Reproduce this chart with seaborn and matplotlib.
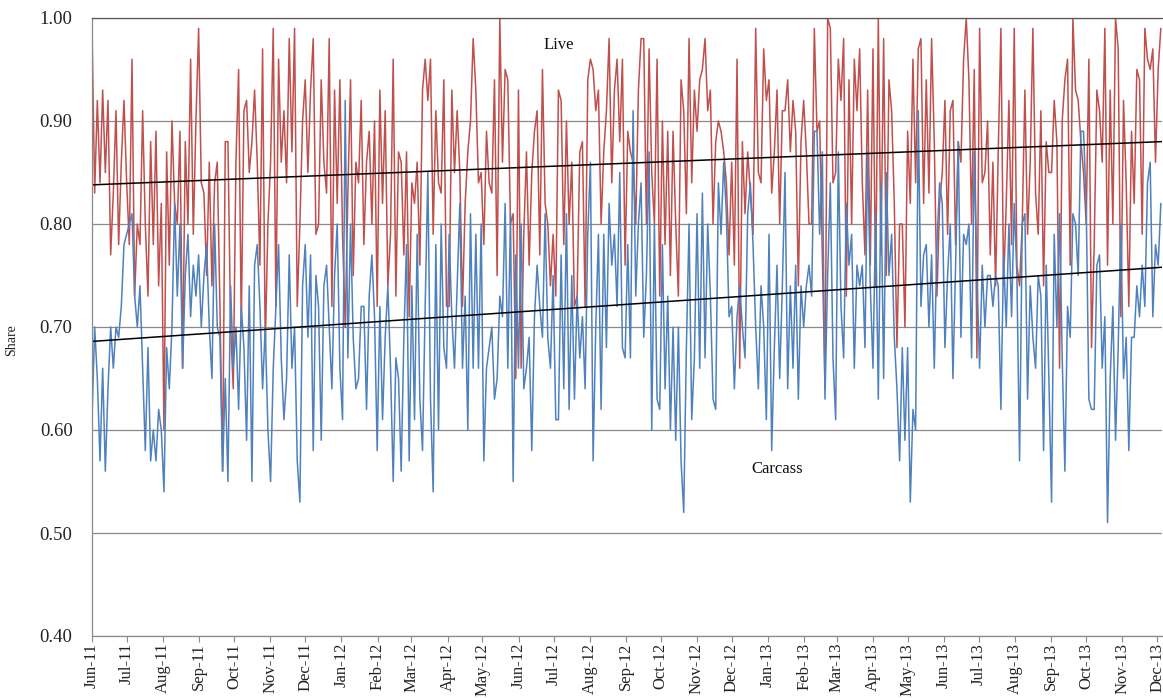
import numpy as np
import pandas as pd
import matplotlib
matplotlib.use("Agg")
import matplotlib.pyplot as plt
import matplotlib.dates as mdates
from matplotlib.ticker import FormatStrFormatter, MultipleLocator
import seaborn as sns

# Share of live and carcass sales (in percent), sampled evenly Jun-2011 .. Dec-2013
live_pct = [
    99, 83, 92, 84, 93, 85, 92, 77, 83, 91, 78, 86, 92, 84, 78, 96, 73, 80, 78, 91,
    80, 73, 88, 78, 89, 74, 82, 60, 87, 76, 90, 82,
    80, 89, 66, 88, 80, 96, 79, 90, 99, 84, 83, 75, 86, 74, 84, 86, 72, 56, 88, 88,
    70, 64, 86, 95, 70, 91, 92, 85, 88, 93, 86, 76, 97, 68,
    80, 86, 99, 72, 96, 86, 91, 84, 98, 87, 99, 72, 80, 90, 94, 85, 93, 98, 79, 80,
    94, 86, 83, 98, 72, 93, 82, 94, 79, 70, 83, 94, 75, 86,
    84, 92, 78, 86, 89, 80, 90, 72, 93, 82, 91, 74, 79, 96, 73, 87, 86, 77, 87, 71,
    84, 82, 86, 76, 93, 96, 92, 96, 79, 91, 84, 83, 94, 72,
    72, 93, 85, 91, 85, 72, 82, 87, 90, 98, 93, 84, 85, 78, 89, 84, 83, 94, 75, 100,
    86, 95, 94, 80, 81, 65, 93, 66, 79, 87, 76, 85, 89, 91,
    77, 95, 82, 80, 74, 79, 73, 93, 92, 78, 90, 80, 86, 72, 73, 87, 88, 72, 94, 96,
    95, 91, 93, 80, 87, 91, 98, 84, 93, 96, 88, 96, 76, 89,
    87, 86, 80, 93, 98, 98, 80, 97, 85, 80, 96, 73, 90, 78, 89, 75, 89, 80, 73, 94,
    91, 81, 98, 84, 93, 89, 94, 95, 98, 91, 93, 80, 88, 90,
    89, 87, 84, 77, 86, 76, 96, 66, 88, 81, 87, 83, 79, 99, 85, 84, 97, 92, 94, 83,
    87, 93, 80, 91, 91, 94, 87, 92, 89, 74, 88, 92, 87, 80,
    80, 99, 89, 90, 77, 64, 100, 99, 84, 85, 96, 92, 98, 73, 94, 80, 96, 91, 97, 84,
    77, 93, 76, 97, 74, 100, 77, 98, 75, 94, 91, 82, 68, 80,
    80, 70, 89, 82, 96, 84, 97, 98, 82, 94, 83, 98, 88, 73, 82, 85, 92, 79, 91, 92,
    78, 88, 86, 96, 100, 94, 80, 95, 67, 99, 84, 85, 90, 77,
    86, 74, 87, 99, 74, 82, 92, 78, 99, 76, 74, 80, 93, 79, 86, 99, 83, 79, 91, 74,
    88, 85, 85, 92, 88, 66, 90, 94, 96, 76, 100, 93, 92, 88,
    85, 80, 96, 68, 78, 93, 91, 86, 99, 76, 93, 80, 100, 97, 71, 92, 84, 72, 89, 82,
    95, 94, 79, 99, 96, 95, 97, 86, 95, 99,
]

carcass_pct = [
    61, 70, 65, 57, 66, 56, 64, 70, 66, 70, 69, 72, 78, 79, 80, 81, 73, 70, 74, 66,
    58, 68, 57, 60, 57, 62, 60, 54, 68, 64, 70, 82,
    73, 80, 66, 75, 79, 71, 76, 73, 77, 70, 75, 78, 70, 65, 80, 70, 69, 56, 65, 55,
    74, 66, 70, 62, 72, 68, 59, 74, 55, 76, 78, 72, 64, 70,
    60, 55, 66, 72, 78, 67, 61, 65, 77, 66, 70, 57, 53, 74, 78, 69, 77, 58, 75, 72,
    59, 74, 76, 70, 64, 75, 80, 66, 61, 92, 67, 80, 69, 64,
    65, 72, 72, 62, 73, 77, 71, 58, 72, 61, 69, 74, 66, 55, 67, 65, 56, 69, 78, 57,
    74, 61, 79, 63, 58, 72, 85, 63, 54, 78, 60, 80, 68, 66,
    79, 71, 66, 74, 82, 66, 73, 60, 81, 66, 79, 66, 80, 57, 66, 68, 70, 63, 65, 73,
    71, 82, 66, 81, 55, 77, 66, 80, 64, 66, 69, 58, 71, 76,
    72, 69, 81, 69, 66, 75, 61, 61, 77, 64, 81, 62, 75, 63, 73, 67, 71, 64, 79, 86,
    57, 70, 79, 62, 79, 68, 82, 76, 79, 72, 85, 68, 67, 78,
    67, 91, 73, 80, 84, 69, 75, 87, 60, 80, 63, 62, 78, 64, 73, 60, 70, 59, 70, 57,
    52, 68, 80, 61, 67, 81, 66, 83, 67, 80, 73, 63, 62, 84,
    79, 86, 81, 71, 72, 64, 71, 74, 70, 67, 81, 84, 78, 70, 64, 74, 70, 61, 79, 58,
    68, 76, 65, 74, 85, 64, 74, 66, 76, 63, 74, 70, 74, 76,
    73, 89, 89, 79, 87, 63, 75, 84, 67, 61, 87, 72, 67, 82, 76, 79, 66, 76, 74, 76,
    68, 87, 74, 66, 81, 63, 84, 65, 85, 75, 79, 69, 64, 57,
    68, 59, 68, 53, 62, 60, 91, 72, 77, 78, 70, 77, 66, 78, 84, 82, 68, 75, 80, 65,
    76, 88, 69, 79, 78, 80, 67, 87, 75, 66, 76, 70, 75, 75,
    72, 75, 74, 62, 77, 70, 80, 71, 82, 75, 57, 80, 81, 63, 74, 69, 66, 75, 73, 58,
    76, 65, 53, 79, 70, 81, 67, 56, 72, 69, 81, 80, 75, 89,
    89, 82, 63, 62, 62, 76, 77, 66, 71, 51, 65, 72, 59, 68, 80, 65, 69, 58, 69, 69,
    74, 71, 76, 72, 84, 86, 71, 78, 76, 82,
]

# Linear trend of each share at the start and end of the period
trend_live = [0.838, 0.880]
trend_carcass = [0.686, 0.758]

period = ["2011-06-01", "2013-12-04"]
axis_range = ["2011-06-01", "2013-12-05"]
y_range = [0.40, 1.00]

series_names = ["Live", "Carcass"]
series_colors = {"Live": "#C0504D", "Carcass": "#4F81BD"}

sns.set_theme(style="white")
plt.rcParams["font.family"] = ["Liberation Serif", "DejaVu Serif"]

n = len(live_pct)
dates = pd.date_range(period[0], period[1], periods=n)
df = pd.DataFrame({
    "date": np.concatenate([dates.values, dates.values]),
    "share": np.array(live_pct + carcass_pct) / 100.0,
    "series": [series_names[0]] * n + [series_names[1]] * n,
})

trend_dates = pd.to_datetime(axis_range)
trend_df = pd.DataFrame({
    "date": np.concatenate([trend_dates.values, trend_dates.values]),
    "share": trend_live + trend_carcass,
    "series": [series_names[0]] * 2 + [series_names[1]] * 2,
})

W, H = 1163, 698
fig = plt.figure(figsize=(W / 100, H / 100), dpi=100)
ax = fig.add_axes([92 / W, 1 - 636 / H, 1070 / W, 618 / H])

sns.lineplot(data=df, x="date", y="share", hue="series", hue_order=series_names,
             palette=series_colors, linewidth=1.1, estimator=None,
             legend=False, ax=ax)
sns.lineplot(data=trend_df, x="date", y="share", units="series", estimator=None,
             color="black", linewidth=1.1, legend=False, ax=ax)

ax.set_xlim(trend_dates[0], trend_dates[1])
ax.set_ylim(*y_range)

ax.yaxis.set_major_locator(MultipleLocator(0.1))
ax.yaxis.set_major_formatter(FormatStrFormatter("%.2f"))
ax.xaxis.set_major_locator(mdates.MonthLocator())
ax.xaxis.set_major_formatter(mdates.DateFormatter("%b-%y"))

ax.yaxis.grid(True, color="#8a8a8a", linewidth=0.9)
ax.set_axisbelow(True)

for side in ["left", "bottom", "top"]:
    ax.spines[side].set_visible(True)
    ax.spines[side].set_color("#8a8a8a")
    ax.spines[side].set_linewidth(0.9)
ax.spines["top"].set_color("#555555")
ax.spines["right"].set_visible(False)

ax.tick_params(axis="y", length=0, pad=14, labelsize=13.5, colors="#222222")
ax.tick_params(axis="x", length=4, width=0.8, color="#8a8a8a", pad=1,
               labelsize=12, labelrotation=90, colors="#222222", bottom=True)

ax.set_xlabel("")
ax.set_ylabel("Share", fontsize=10, color="#222222")
ax.yaxis.set_label_coords((18 - 92) / 1070, (636 - 340) / 618)

ax.text((559 - 92) / 1070, (636 - 45) / 618, "Live", transform=ax.transAxes,
        ha="center", va="center", fontsize=12, color="#111111")
ax.text((777 - 92) / 1070, (636 - 469) / 618, "Carcass", transform=ax.transAxes,
        ha="center", va="center", fontsize=12, color="#111111")

fig.savefig("out.png", dpi=100, facecolor="white")
